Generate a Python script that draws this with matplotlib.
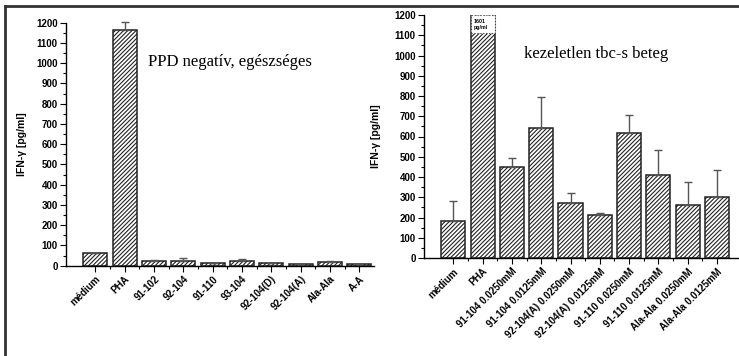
import numpy as np
import matplotlib.pyplot as plt
from matplotlib.lines import Line2D
from matplotlib.patches import Rectangle

# bal oldali panel - PPD negativ, egeszseges
labels_a = ['médium', 'PHA', '91-102', '92-104', '91-110', '93-104',
            '92-104(D)', '92-104(A)', 'Ala-Ala', 'A-A']
vals_a = [62, 1165, 22, 22, 12, 22, 12, 7, 18, 7]
err_a = [3, 38, 4, 16, 2, 10, 2, 1, 5, 2]

# jobb oldali panel - kezeletlen tbc-s beteg
labels_b = ['médium', 'PHA', '91-104 0.0250mM', '91-104 0.0125mM',
            '92-104(A) 0.0250mM', '92-104(A) 0.0125mM', '91-110 0.0250mM',
            '91-110 0.0125mM', 'Ala-Ala 0.0250mM', 'Ala-Ala 0.0125mM']
vals_b = [183, 1601, 449, 644, 274, 212, 615, 410, 260, 300]
err_b = [100, 0, 45, 152, 49, 10, 89, 122, 115, 137]

plt.rcParams['font.family'] = ['Liberation Sans', 'DejaVu Sans']
plt.rcParams['hatch.linewidth'] = 0.8

fig = plt.figure(figsize=(7.39, 3.56), dpi=100)
ax1 = fig.add_axes([66/739, 1-265.7/356, 308/739, 243/356])
ax2 = fig.add_axes([424/739, 1-258/356, 315/739, 243/356])


def panel(ax, labels, vals, err, xmax, title, tx):
    x = np.arange(1, len(vals)+1)
    ax.bar(x, vals, width=0.82, color='white', edgecolor='#222222',
           hatch='////////', linewidth=1.1, zorder=2)
    lo = np.zeros(len(err))
    ax.errorbar(x, vals, yerr=[lo, err], fmt='none', ecolor='#555555',
                elinewidth=1, capsize=3, capthick=1, zorder=3, clip_on=False)
    ax.set_xlim(0, xmax)
    ax.set_ylim(0, 1200)
    ax.set_yticks(np.arange(0, 1201, 100))
    ax.set_yticks(np.arange(50, 1200, 100), minor=True)
    ax.set_xticks(x)
    ax.set_xticks(x[:-1] + 0.5, minor=True)
    ax.set_xticklabels(labels, rotation=45, ha='right', rotation_mode='anchor',
                       fontsize=7, fontweight='bold')
    for t in ax.get_yticklabels():
        t.set_fontsize(7)
        t.set_fontweight('bold')
    ax.tick_params(direction='out', length=4, width=0.8, pad=2)
    ax.tick_params(which='minor', direction='out', length=2, width=0.8)
    for s in ['top', 'right']:
        ax.spines[s].set_visible(False)
    for s in ['left', 'bottom']:
        ax.spines[s].set_linewidth(1.0)
    ax.set_ylabel('IFN-γ [pg/ml]', fontsize=7.5, fontweight='bold')
    ax.text(tx, 1005, title, fontsize=12, family='Liberation Serif',
            va='center', ha='left')
    return x


panel(ax1, labels_a, vals_a, err_a, 10.5, 'PPD negatív, egészséges', 2.8)
ax1.yaxis.set_label_coords(-0.127, 0.5)
xb = panel(ax2, labels_b, vals_b, err_b, 10.75, 'kezeletlen tbc-s beteg', 3.41)
ax2.yaxis.set_label_coords(-0.137, 0.5)

# PHA ertek felirat (a skalan kivul)
ax2.add_patch(Rectangle((xb[1]-0.41, 1110), 0.82, 90, facecolor='white',
                        edgecolor='#444444', linestyle=':', linewidth=0.8, zorder=4))
ax2.text(xb[1]-0.3, 1155, '%d\npg/ml' % vals_b[1], fontsize=3.8,
         fontweight='bold', va='center', ha='left', zorder=5, linespacing=1.3)

# keret
fig.add_artist(Line2D([5/739, 1], [1-6/356, 1-6/356], color='#333333', lw=2))
fig.add_artist(Line2D([5/739, 5/739], [0, 1-6/356], color='#333333', lw=2))

plt.savefig('out.png', dpi=100)
